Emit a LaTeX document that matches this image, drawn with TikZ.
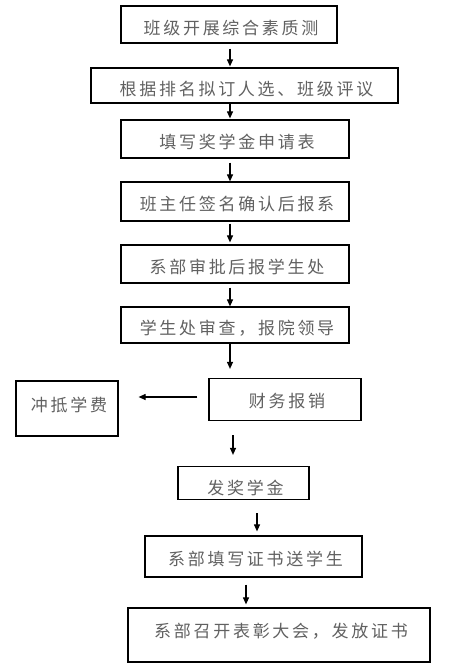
\documentclass[tikz,border=0pt]{standalone}
\usepackage{fontspec}
\newfontfamily\cjk[LetterSpace=16]{Noto Sans CJK SC}
\usetikzlibrary{arrows.meta}
\begin{document}
\begin{tikzpicture}[x=1pt,y=-1pt,
  box/.style={draw=black, line width=1.2pt, inner sep=0pt, fill=white},
  txt/.style={inner sep=0pt, font=\cjk\fontsize{17pt}{18pt}\selectfont, text=black!62, xshift=2pt},
  arr/.style={draw=black, line width=1.1pt, -{Triangle[length=7pt,width=6pt]}}]
\useasboundingbox (0,0) rectangle (459,669);
% boxes
\node[box, minimum width=216pt, minimum height=37pt] (b1) at (229,24.5) {};
\node[box, minimum width=307pt, minimum height=35pt] (b2) at (244.5,85.5) {};
\node[box, minimum width=228pt, minimum height=38pt] (b3) at (235,139) {};
\node[box, minimum width=228pt, minimum height=39pt] (b4) at (235,201.5) {};
\node[box, minimum width=228pt, minimum height=38pt] (b5) at (235,264) {};
\node[box, minimum width=228pt, minimum height=36pt] (b6) at (235,325) {};
\node[box, minimum width=152pt, minimum height=42pt] (b7) at (285,399.5) {};
\node[box, minimum width=102pt, minimum height=55pt] (bL) at (67,408.5) {};
\node[box, minimum width=131pt, minimum height=33pt] (b8) at (243.5,483) {};
\node[box, minimum width=217pt, minimum height=41pt] (b9) at (253.5,556.5) {};
\node[box, minimum width=302pt, minimum height=54pt] (b10) at (279,635) {};
% texts
\node[txt] (t1) at ([yshift=-4pt]b1.center) {班级开展综合素质测};
\node[txt] (t2) at ([yshift=-4pt]b2.center) {根据排名拟订人选、班级评议};
\node[txt] (t3) at ([yshift=-2.5pt]b3.center) {填写奖学金申请表};
\node[txt] (t4) at ([yshift=-2.5pt]b4.center) {班主任签名确认后报系};
\node[txt] (t5) at ([yshift=-3pt]b5.center) {系部审批后报学生处};
\node[txt] (t6) at ([yshift=-3.5pt]b6.center) {学生处审查，报院领导};
\node[txt] (t7) at ([yshift=-1.5pt]b7.center) {财务报销};
\node[txt] (tL) at ([yshift=4pt]bL.center) {冲抵学费};
\node[txt] (t8) at ([yshift=-4.5pt]b8.center) {发奖学金};
\node[txt] (t9) at ([yshift=-2pt]b9.center) {系部填写证书送学生};
\node[txt] (t10) at ([yshift=4pt]b10.center) {系部召开表彰大会，发放证书};
% guide coordinates
\coordinate (c230) at (230,0);
\coordinate (c233) at (233,0);
\coordinate (c257) at (257,0);
\coordinate (c246) at (246,0);
\coordinate (r397) at (0,397);
% connectors
\draw[arr, shorten <=5pt, shorten >=1pt] (b1.south -| c230) -- (b2.north -| c230);
\draw[arr, shorten >=1pt] (b2.south -| c230) -- (b3.north -| c230);
\draw[arr, shorten <=4pt] (b3.south -| c230) -- (b4.north -| c230);
\draw[arr, shorten <=2pt, shorten >=2pt] (b4.south -| c230) -- (b5.north -| c230);
\draw[arr, shorten <=4pt] (b5.south -| c230) -- (b6.north -| c230);
\draw[arr, shorten >=9pt] (b6.south -| c230) -- (b7.north -| c230);
\draw[arr, shorten <=11pt, shorten >=20pt] (b7.west |- r397) -- (bL.east |- r397);
\draw[arr, shorten <=14pt, shorten >=11pt] (b7.south -| c233) -- (b8.north -| c233);
\draw[arr, shorten <=13pt, shorten >=4pt] (b8.south -| c257) -- (b9.north -| c257);
\draw[arr, shorten <=7pt, shorten >=3pt] (b9.south -| c246) -- (b10.north -| c246);
\end{tikzpicture}
\end{document}
